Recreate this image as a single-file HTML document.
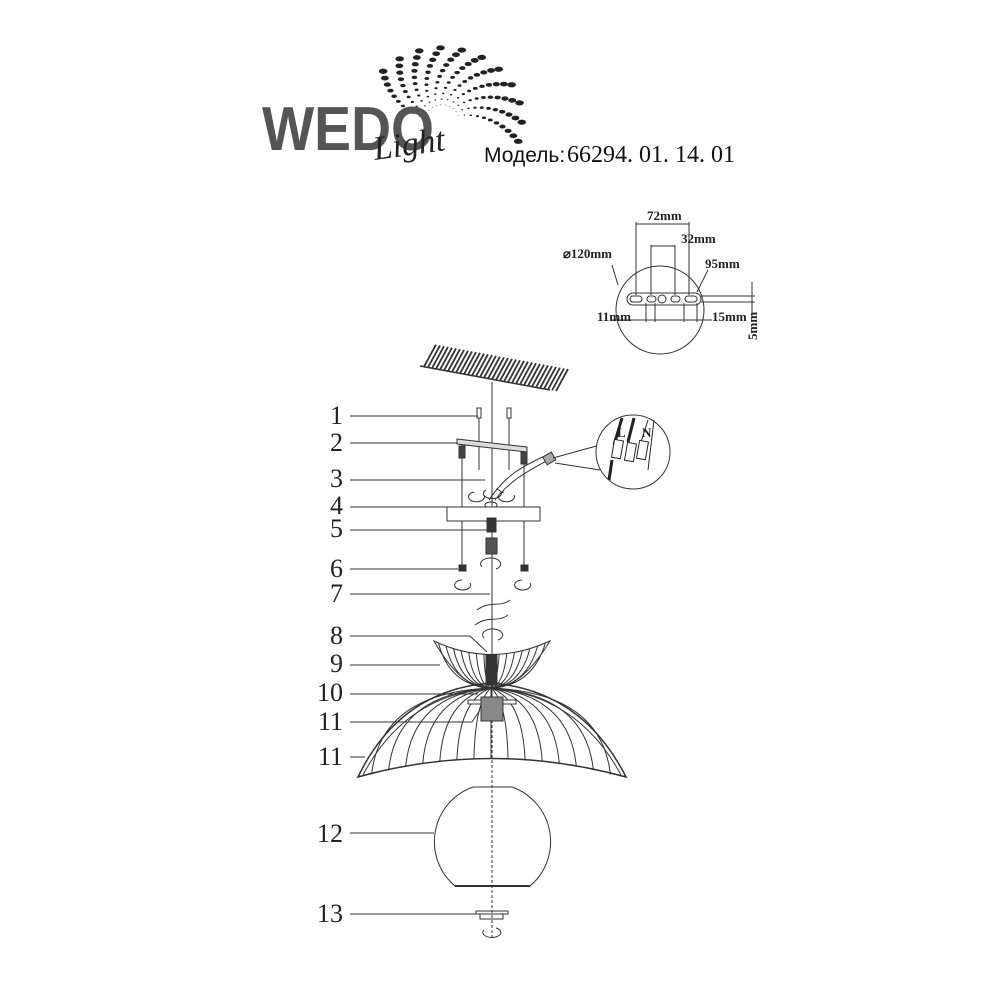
<!DOCTYPE html>
<html><head><meta charset="utf-8"><style>
html,body{margin:0;padding:0;background:#fff;width:1000px;height:1000px;overflow:hidden}
svg{display:block}
.n{font-family:"Liberation Serif",serif;font-size:26px;fill:#222}
.d{font-family:"Liberation Serif",serif;font-size:13px;fill:#222;font-weight:bold}
</style></head><body>
<svg width="1000" height="1000" viewBox="0 0 1000 1000" xmlns="http://www.w3.org/2000/svg">
<g id="dots" fill="#222"></g>
<text x="262" y="150" font-family="Liberation Sans,sans-serif" font-weight="bold" font-size="62" fill="#555" textLength="172" lengthAdjust="spacingAndGlyphs">WEDO</text>
<text x="375" y="160" font-family="Liberation Serif,serif" font-style="italic" font-size="34" fill="#222" transform="rotate(-8 375 160)">Light</text>
<text x="484" y="162" font-family="Liberation Sans,sans-serif" font-size="21" fill="#111">Модель:</text>
<text x="567" y="162" font-family="Liberation Serif,serif" font-size="24" fill="#111">66294. 01. 14. 01</text>

<g stroke="#333" fill="none" stroke-width="1">
<circle cx="660" cy="310" r="44"/>
<rect x="627" y="293" width="74" height="12" rx="6" fill="#fff"/>
<line x1="701" y1="296" x2="755" y2="296"/><line x1="701" y1="302" x2="755" y2="302"/>
<rect x="630" y="296" width="12" height="6" rx="3"/><rect x="647" y="296" width="9" height="6" rx="3"/><circle cx="662" cy="299" r="4"/><rect x="671" y="296" width="9" height="6" rx="3"/><rect x="685" y="296" width="12" height="6" rx="3"/>
<line x1="636" y1="222" x2="636" y2="295"/><line x1="689" y1="222" x2="689" y2="295"/><line x1="636" y1="224" x2="689" y2="224"/>
<line x1="651" y1="245" x2="651" y2="295"/><line x1="675" y1="245" x2="675" y2="295"/><line x1="651" y1="246" x2="675" y2="246"/>
<line x1="646" y1="303" x2="646" y2="322"/><line x1="655" y1="303" x2="655" y2="322"/><line x1="684" y1="303" x2="684" y2="322"/><line x1="697" y1="303" x2="697" y2="322"/>
<line x1="612" y1="320" x2="712" y2="320"/>
<line x1="612" y1="265" x2="618" y2="285"/><line x1="708" y1="270" x2="697" y2="292"/>
<line x1="752" y1="282" x2="752" y2="318"/>
<line x1="420" y1="366" x2="550" y2="390" stroke-width="1.5"/>
<g id="hatch" stroke-width="1.8"></g>
<line x1="492" y1="382" x2="492" y2="720"/>
<line x1="492" y1="720" x2="492" y2="940" stroke-dasharray="3,2"/>
<line x1="350" y1="416" x2="478" y2="416"/>
<line x1="350" y1="443" x2="458" y2="443"/>
<line x1="350" y1="480" x2="485" y2="480"/>
<line x1="350" y1="507" x2="447" y2="507"/>
<line x1="350" y1="530" x2="488" y2="530"/>
<line x1="350" y1="569" x2="458" y2="569"/>
<line x1="350" y1="594" x2="490" y2="594"/>
<line x1="350" y1="636" x2="470" y2="636"/><line x1="470" y1="636" x2="487" y2="652"/>
<line x1="350" y1="665" x2="440" y2="665"/>
<line x1="350" y1="694" x2="478" y2="694"/>
<line x1="350" y1="722" x2="472" y2="722"/><line x1="472" y1="722" x2="480" y2="710"/>
<line x1="350" y1="757" x2="365" y2="757"/>
<line x1="350" y1="833" x2="434" y2="833"/>
<line x1="350" y1="914" x2="478" y2="914"/>
<rect x="477" y="408" width="4" height="10"/><rect x="507" y="408" width="4" height="10"/>
<line x1="479" y1="418" x2="479" y2="470"/><line x1="509" y1="418" x2="509" y2="470"/>
<path d="M457 439 L527 447 L527 452 L457 444 Z" fill="#ddd"/>
<line x1="462" y1="445" x2="462" y2="566"/><line x1="524" y1="452" x2="524" y2="566"/>
<rect x="459" y="446" width="6" height="12" fill="#444"/><rect x="521" y="452" width="6" height="12" fill="#444"/>
<path d="M486 490 a9 5 0 1 0 10 -1"/><path d="M474 492 a8 5 0 1 0 10 3"/><path d="M504 492 a8 5 0 1 0 10 3"/>
<ellipse cx="491" cy="505" rx="6" ry="3"/>
<path d="M495 500 C510 480 530 470 548 460"/><path d="M489 500 C505 475 525 465 545 456"/>
<rect x="544" y="454" width="10" height="9" transform="rotate(-30 549 458)" fill="#aaa"/>
<path d="M553 458 L600 445 M555 463 L600 470"/>
<circle cx="633" cy="452" r="37" fill="#fff"/>
<rect x="447" y="507" width="93" height="14" fill="#fff"/>
<rect x="487" y="518" width="9" height="14" fill="#333"/>
<rect x="486" y="538" width="11" height="16" fill="#555"/>
<path d="M482 567 a10 6 0 1 1 14 2"/>
<rect x="459" y="565" width="7" height="6" fill="#333"/><rect x="521" y="565" width="7" height="6" fill="#333"/>
<path d="M462 580 a8 5 0 1 0 8 3"/><path d="M522 580 a8 5 0 1 0 8 3"/>
<path d="M477 610 C490 600 500 608 510 600 M475 625 C488 615 498 623 508 615"/>
<path d="M484 638 a10 6 0 1 1 14 2"/>
<path d="M434 641 Q491 668 550 641 Q520 690 491 688 Q462 690 434 641 Z"/>
<g id="ribsT"></g>
<path d="M358 777 Q400 690 491 683 Q582 690 626 777 Q491 740 358 777 Z" stroke-width="1.5"/>
<path d="M363 775 Q405 695 491 688 Q578 695 621 775"/>
<g id="ribsB"></g>
<rect x="486" y="655" width="11" height="30" fill="#333"/>
<rect x="468" y="700" width="48" height="4" fill="#fff"/>
<rect x="481" y="697" width="22" height="24" fill="#888"/>
<path d="M473 787 L512 787 A58 58 0 0 1 530 886 L455 886 A58 58 0 0 1 473 787 Z"/>
<line x1="455" y1="886" x2="530" y2="886" stroke-width="2"/>
<rect x="476" y="911" width="32" height="3"/><rect x="480" y="914" width="23" height="5"/>
<path d="M484 930 a9 5 0 1 0 12 -2"/>
</g>
<g stroke="#222" fill="none" stroke-width="1">
<line x1="622" y1="418" x2="614" y2="445" stroke-width="3"/><line x1="634" y1="418" x2="628" y2="442" stroke-width="3"/><line x1="648" y1="420" x2="640" y2="445"/>
<rect x="613" y="440" width="9" height="18" transform="rotate(10 617 449)" fill="#fff"/>
<rect x="626" y="443" width="9" height="18" transform="rotate(10 630 452)" fill="#fff"/>
<rect x="638" y="441" width="9" height="18" transform="rotate(10 642 450)" fill="#fff"/>
<line x1="612" y1="460" x2="609" y2="480" stroke-width="3"/><line x1="654" y1="420" x2="648" y2="470"/>
</g>
<text class="d" x="647" y="220">72mm</text>
<text class="d" x="681" y="243">32mm</text>
<text class="d" x="563" y="258">⌀120mm</text>
<text class="d" x="705" y="268">95mm</text>
<text class="d" x="597" y="321">11mm</text>
<text class="d" x="712" y="321">15mm</text>
<text class="d" transform="translate(757 340) rotate(-90)">5mm</text>
<text class="d" x="617" y="437" font-size="8">L</text><text class="d" x="642" y="437" font-size="8">N</text>
<g class="n" text-anchor="end">
<text x="343" y="424">1</text><text x="343" y="451">2</text><text x="343" y="487">3</text><text x="343" y="514">4</text><text x="343" y="537">5</text>
<text x="343" y="577">6</text><text x="343" y="602">7</text><text x="343" y="644">8</text><text x="343" y="672">9</text>
<text x="343" y="701">10</text><text x="343" y="730">11</text><text x="343" y="765">11</text><text x="343" y="842">12</text><text x="343" y="922">13</text>
</g>
</svg>
<script>
var NS="http://www.w3.org/2000/svg";
function P(g,d,w){var p=document.createElementNS(NS,"path");p.setAttribute("d",d);if(w)p.setAttribute("stroke-width",w);document.getElementById(g).appendChild(p);}
for(var i=0;i<34;i++){var x=424+i*4;P("hatch","M"+x+" "+(366+(x-420)*24/130)+" l12 -22");}
for(var i=-7;i<=7;i++){var t=i/7.5;var ex=491+t*128;var u=(t+1)/2;var ey=(1-u)*(1-u)*777+2*u*(1-u)*740+u*u*777;
P("ribsB","M491 688 Q"+(491+t*118)+" "+(692+(1-Math.abs(t))*10)+" "+ex+" "+ey);}
for(var i=-7;i<=7;i++){var t=i/7.6;var u=(t+1)/2;var ex=(1-u)*(1-u)*434+2*u*(1-u)*491+u*u*550;var ey=(1-u)*(1-u)*641+2*u*(1-u)*668+u*u*641;
P("ribsT","M491 688 Q"+(491+t*45)+" 686 "+ex+" "+ey);}
var g=document.getElementById("dots");
for(var a=0;a<11;a++){for(var k=0;k<11;k++){var th=-3.0+a*0.27+k*0.06;var r=16+k*6;var cx=442+Math.cos(th)*r*1.05,cy=120+Math.sin(th)*r*0.95;
var e=document.createElementNS(NS,"ellipse");e.setAttribute("cx",cx);e.setAttribute("cy",cy);e.setAttribute("rx",0.5+k*0.38);e.setAttribute("ry",0.4+k*0.22);g.appendChild(e);}}
</script>
</body></html>
